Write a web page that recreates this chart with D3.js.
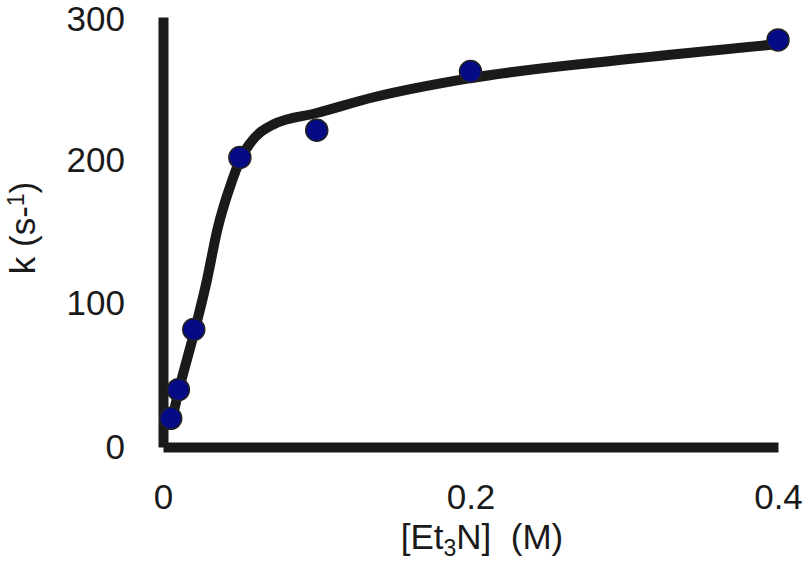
<!DOCTYPE html>
<html>
<head>
<meta charset="utf-8">
<script src="https://cdn.jsdelivr.net/npm/d3@7"></script>
<style>
  body { margin: 0; background: #fff; }
  svg { display: block; font-family: "Liberation Sans", Arial, sans-serif; }
</style>
</head>
<body>
<div class="chart"></div>
<script>
(function () {
  'use strict';

  // measured points
  var conc = [0.005, 0.01, 0.02, 0.05, 0.1, 0.2, 0.4];
  var rate = [20, 40, 82, 202, 221, 262, 284];

  // fitted curve
  var fitConc = [0.006, 0.0104, 0.0208, 0.0287, 0.0352, 0.045, 0.05, 0.0567, 0.0717, 0.1, 0.137, 0.198, 0.306, 0.399];
  var fitRate = [20, 40, 82, 117, 151, 186, 200, 212, 225, 233, 244, 257, 271, 281];

  var xTicks = [0, 0.2, 0.4];
  var xTickLabels = ['0', '0.2', '0.4'];
  var yTicks = [0, 100, 200, 300];

  var w = 805;
  var h = 561;
  var ink = '#1a1a1a';

  var svg = d3.select('.chart').append('svg').attr('width', w).attr('height', h);

  var x = d3.scaleLinear().domain([0, 0.4]).range([163, 778]);
  var y = d3.scaleLinear().domain([0, 300]).range([447, 17]);

  var xAxis = d3.axisBottom(x).tickValues(xTicks)
    .tickFormat(function (d, i) { return xTickLabels[i]; })
    .tickSize(0).tickSizeOuter(0).tickPadding(37);
  var yAxis = d3.axisLeft(y).tickValues(yTicks).tickFormat(d3.format('d'))
    .tickSize(0).tickSizeOuter(0).tickPadding(38);

  var gx = svg.append('g').attr('transform', 'translate(0,' + y(0) + ')').call(xAxis);
  var gy = svg.append('g').attr('transform', 'translate(' + x(0) + ',0)').call(yAxis);

  [gx, gy].forEach(function (g) {
    g.select('.domain').attr('stroke', ink).attr('stroke-width', 10);
    g.selectAll('.tick text').attr('fill', ink).style('font-size', '35px');
  });
  // keep the top label inside the frame
  gy.selectAll('.tick text').filter(function (d) { return d === 300; }).attr('dy', '0.38em');

  // curve
  var fit = fitConc.map(function (c, i) { return [c, fitRate[i]]; });
  var line = d3.line()
    .x(function (d) { return x(d[0]); })
    .y(function (d) { return y(d[1]); })
    .curve(d3.curveMonotoneX);

  svg.append('path').datum(fit)
    .attr('d', line)
    .attr('fill', 'none')
    .attr('stroke', ink)
    .attr('stroke-width', 10)
    .attr('stroke-linecap', 'round')
    .attr('stroke-linejoin', 'round');

  svg.selectAll('.dot').data(conc).enter().append('circle')
    .attr('class', 'dot')
    .attr('cx', function (d) { return x(d); })
    .attr('cy', function (d, i) { return y(rate[i]); })
    .attr('r', 11)
    .attr('fill', '#050a85')
    .attr('stroke', '#222')
    .attr('stroke-width', 1.5);

  // axis titles
  var xTitle = svg.append('text')
    .attr('x', 482).attr('y', 549)
    .attr('text-anchor', 'middle')
    .attr('fill', ink)
    .style('font-size', '35px');
  xTitle.append('tspan').text('[Et');
  xTitle.append('tspan').attr('dy', 7).style('font-size', '23px').text('3');
  xTitle.append('tspan').attr('dy', -7).text('N]\u00a0\u00a0(M)');

  var yTitle = svg.append('text')
    .attr('transform', 'translate(35,228) rotate(-90)')
    .attr('text-anchor', 'middle')
    .attr('fill', ink)
    .style('font-size', '35px');
  yTitle.append('tspan').text('k (s-');
  yTitle.append('tspan').attr('dy', -11).style('font-size', '23px').text('1');
  yTitle.append('tspan').attr('dy', 11).text(')');
})();
</script>
</body>
</html>
